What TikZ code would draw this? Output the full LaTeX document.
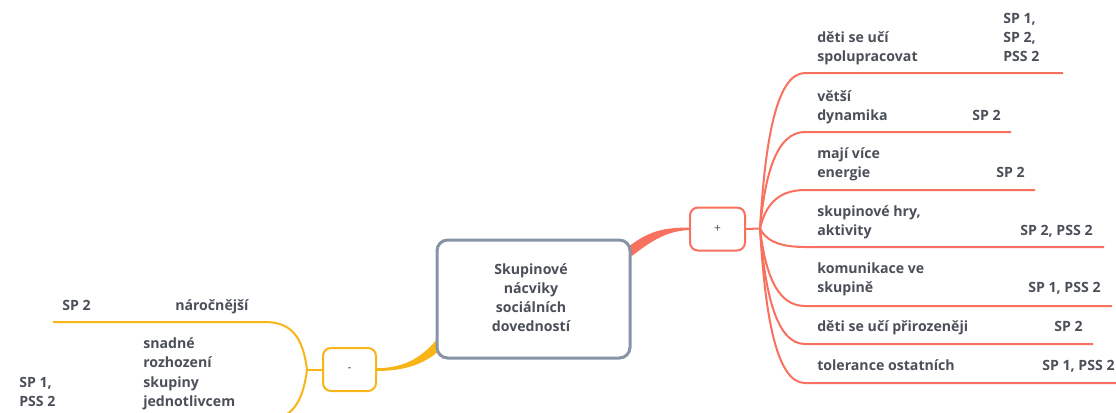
\documentclass[tikz,border=0pt]{standalone}
\usepackage{fontspec}
\setmainfont{Open Sans}
\definecolor{txt}{HTML}{4A4F58}
\definecolor{redline}{HTML}{F8705E}
\definecolor{yelline}{HTML}{F9B418}
\definecolor{boxgray}{HTML}{8794A8}
\begin{document}
\begin{tikzpicture}[x=0.75pt,y=-0.75pt,
  lbl/.style={font=\fontsize{10.6}{12}\selectfont\bfseries, text=txt, inner sep=0pt, anchor=mid west},
  ctr/.style={lbl, anchor=mid},
  rbr/.style={draw=redline, line width=1.5pt},
  ybr/.style={draw=yelline, line width=1.5pt},
  sign/.style={font=\fontsize{9}{11}\selectfont, text=txt, rounded corners=6pt, line width=1.5pt, fill=white}]
\useasboundingbox (0,0) rectangle (1116,412);
\clip (0,0) rectangle (1116,412);

% tapered connectors from the central topic
\fill[redline] (628,247) .. controls (650,230) and (665,227.5) .. (692,227.5)
   -- (692,230) .. controls (668,230) and (652,240) .. (628,259) -- cycle;
\fill[yelline] (439,337) .. controls (420,360) and (402,368.3) .. (374,368.3)
   -- (374,371) .. controls (400,371) and (420,367) .. (439,351) -- cycle;

% central topic
\node[draw=boxgray, line width=2.25pt, rounded corners=8pt, fill=white,
      minimum width=193*0.75pt, minimum height=118*0.75pt, inner sep=0pt] (root) at (533.5,299) {};
\node[ctr] (t1) at (531,271) {Skupinové};
\node[ctr] (t2) at (531,290) {nácviky};
\node[ctr] (t3) at (531,309) {sociálních};
\node[ctr] (t4) at (531,328) {dovedností};

% main branch boxes
\node[sign, draw=redline, minimum width=55*0.75pt, minimum height=43*0.75pt] (plus) at (717.5,229) {+};
\node[sign, draw=yelline, minimum width=53*0.75pt, minimum height=43*0.75pt] (minus) at (349.5,369.5) {-};

% right hub
\coordinate (rh) at (760,228.5);
\draw[rbr] (plus.east) -- (rh);
\foreach \y/\e in {73/1063,132/1011,190/1035,247/1104,306/1112,344/1093,383/1120}{
  \draw[rbr] (rh) .. controls (765,{228.5+(\y-228.5)*0.55}) and (776,\y) .. (805,\y) -- (\e,\y);
}

% left hub
\coordinate (lh) at (307,369.5);
\draw[ybr] (minus.west) -- (lh);
\draw[ybr] (lh) .. controls (303,338) and (292,322) .. (265,322) -- (53,322);
\draw[ybr] (lh) .. controls (303,402) and (292,420) .. (265,420) -- (10,420);

% right labels
\node[lbl] (a1) at (817,39) {děti se učí};
\node[lbl] (a2) at (817,58) {spolupracovat};
\node[lbl] (a3) at (1003,20) {SP 1,};
\node[lbl] (a4) at (1003,39) {SP 2,};
\node[lbl] (a5) at (1003,58) {PSS 2};

\node[lbl] (b1) at (817,98) {větší};
\node[lbl] (b2) at (817,117) {dynamika};
\node[lbl] (b3) at (972,117) {SP 2};

\node[lbl] (c1) at (817,155) {mají více};
\node[lbl] (c2) at (817,174) {energie};
\node[lbl] (c3) at (996,174) {SP 2};

\node[lbl] (d1) at (817,213) {skupinové hry,};
\node[lbl] (d2) at (817,232) {aktivity};
\node[lbl] (d3) at (1020,232) {SP 2, PSS 2};

\node[lbl] (e1) at (817,270) {komunikace ve};
\node[lbl] (e2) at (817,289) {skupině};
\node[lbl] (e3) at (1028,289) {SP 1, PSS 2};

\node[lbl] (f1) at (817,328) {děti se učí přirozeněji};
\node[lbl] (f2) at (1054,328) {SP 2};

\node[lbl] (g1) at (817,367) {tolerance ostatních};
\node[lbl] (g2) at (1042,367) {SP 1, PSS 2};

% left labels
\node[lbl] (h1) at (62,307) {SP 2};
\node[lbl] (h2) at (175,307) {náročnější};

\node[lbl] (i1) at (143,345) {snadné};
\node[lbl] (i2) at (143,364) {rozhození};
\node[lbl] (i3) at (143,384) {skupiny};
\node[lbl] (i4) at (143,403) {jednotlivcem};
\node[lbl] (i5) at (19,384) {SP 1,};
\node[lbl] (i6) at (19,403) {PSS 2};
\end{tikzpicture}
\end{document}
